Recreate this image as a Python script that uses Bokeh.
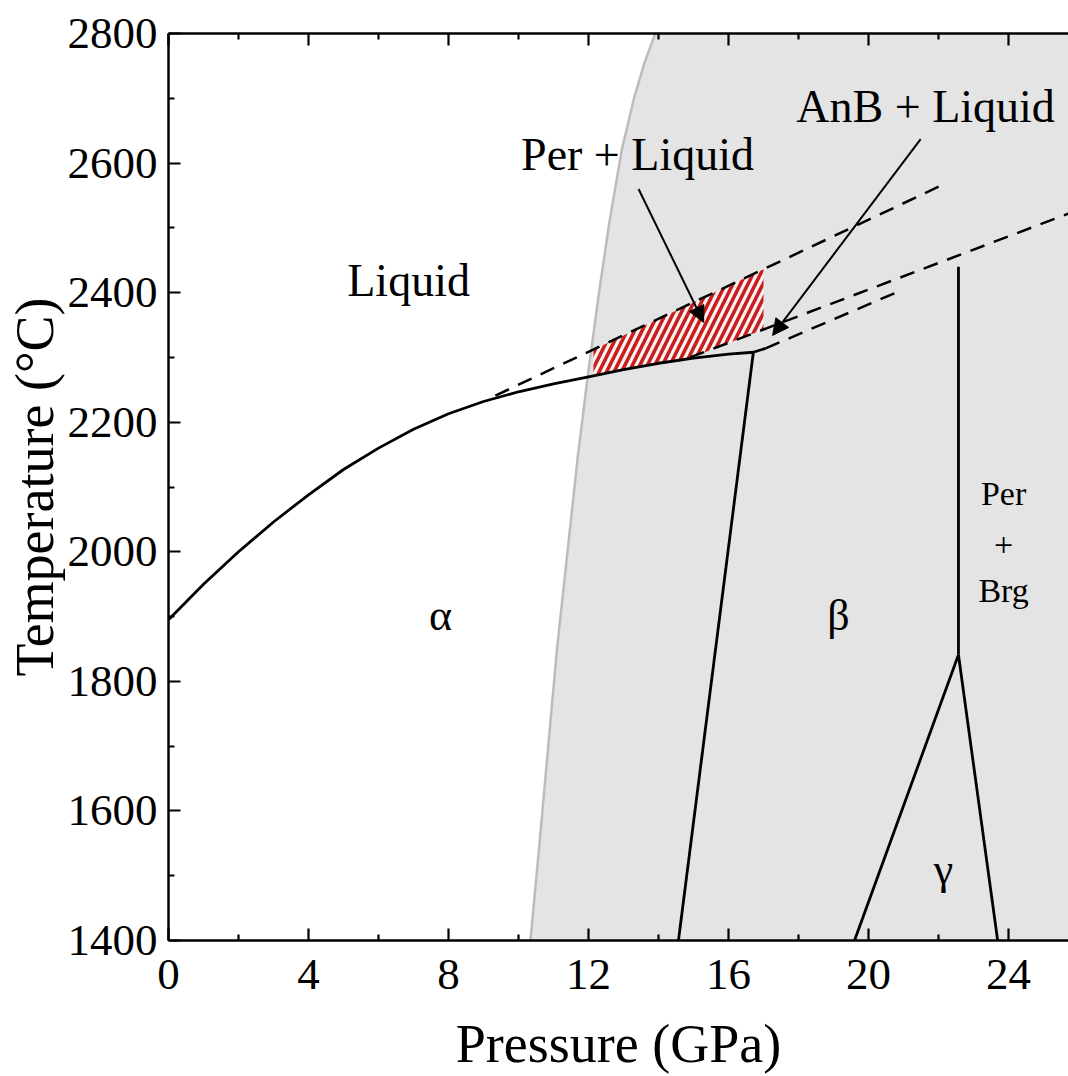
from bokeh.plotting import figure
from bokeh.models import Range1d, LinearAxis, FixedTicker, Arrow, NormalHead, Label
from bokeh.embed import file_html
from bokeh.resources import INLINE

FONT = "Liberation Serif"

# --- data (pressure GPa, temperature degC) ---
# left edge of grey shaded field
grey_P = [10.34, 10.6, 10.85, 11.1, 11.4, 11.7, 12.0, 12.3, 12.6, 12.95, 13.3, 13.6, 13.91]
grey_T = [1400, 1550, 1700, 1850, 2000, 2150, 2280, 2400, 2510, 2620, 2700, 2755, 2800]

# liquidus (solid)
liq_P = [0, 1, 2, 3, 4, 5, 6, 7, 8, 9, 10, 11, 12, 13, 14, 15, 16, 16.71, 17.06]
liq_T = [1895, 1950, 2000, 2046, 2088, 2127, 2160, 2189, 2213, 2232, 2247, 2259, 2270, 2281, 2291, 2299, 2305, 2308, 2314]

# alpha/beta boundary
ab_P = [16.71, 14.57]
ab_T = [2308, 1400]

# gamma field boundaries
gl_P = [19.6, 22.57]
gl_T = [1400, 1841]
gr_P = [22.57, 23.69]
gr_T = [1841, 1400]
# Per + Brg vertical boundary
pb_P = [22.57, 22.57]
pb_T = [1841, 2440]

# dashed extrapolated lines
d1_P = [9.34, 22.06]
d1_T = [2241, 2565]
d2_P = [14.9, 25.71]
d2_T = [2300, 2522]
d3_P = [17.06, 21.0]
d3_T = [2314, 2405]

# hatched Per + Liquid area
hatch_P = [12.14, 17.0, 17.0, 14.9, 14.0, 13.0, 12.14]
hatch_T = [2312, 2436, 2343, 2299, 2291, 2281, 2271]

x_ticks = [0, 4, 8, 12, 16, 20, 24]
x_minor = [2, 6, 10, 14, 18, 22]
y_ticks = [1400, 1600, 1800, 2000, 2200, 2400, 2600, 2800]
y_minor = [1500, 1700, 1900, 2100, 2300, 2500, 2700]

X_END = 25.714

p = figure(width=1068, height=1076, x_range=Range1d(0, X_END), y_range=Range1d(1400, 2800),
           output_backend="svg", toolbar_location=None,
           min_border_left=168, min_border_right=0, min_border_top=33, min_border_bottom=135)
p.outline_line_color = None
p.grid.visible = False
p.background_fill_color = "white"

bottom = p.below[0]
left = p.left[0]
top = LinearAxis()
p.add_layout(top, "above")

# grey field
gp = grey_P + [X_END, X_END]
gt = grey_T + [2800, 1400]
p.patch(gp, gt, fill_color="#e4e4e4", line_color=None)
p.line(grey_P, grey_T, line_color="#bcbcbc", line_width=2.5)

# hatched area
p.patch(hatch_P, hatch_T, fill_color="#fbf3f3", line_color=None,
        hatch_pattern="/", hatch_color="#c81e1e", hatch_weight=3.6, hatch_scale=15)

# lines
for xs, ys in [(liq_P, liq_T), (ab_P, ab_T), (gl_P, gl_T), (gr_P, gr_T), (pb_P, pb_T)]:
    p.line(xs, ys, line_color="black", line_width=2.8, line_join="round")
for xs, ys in [(d1_P, d1_T), (d2_P, d2_T), (d3_P, d3_T)]:
    p.line(xs, ys, line_color="black", line_width=2.5, line_dash="15 10")

# arrows
p.add_layout(Arrow(x_start=13.43, y_start=2560, x_end=15.29, y_end=2354, line_width=2,
                   end=NormalHead(size=16, fill_color="black", line_color="black")))
p.add_layout(Arrow(x_start=21.49, y_start=2637, x_end=17.26, y_end=2334, line_width=2,
                   end=NormalHead(size=16, fill_color="black", line_color="black")))

def lab(x, y, t, size):
    p.add_layout(Label(x=x, y=y, text=t, text_font=FONT, text_font_size=size,
                       text_align="center", text_baseline="middle", text_color="black"))

lab(6.86, 2419, "Liquid", "46px")
lab(13.4, 2614, "Per + Liquid", "46px")
lab(21.63, 2688, "AnB + Liquid", "46px")
lab(7.77, 1902, "α", "44px")
lab(19.14, 1902, "β", "44px")
lab(22.14, 1509, "γ", "44px")
lab(23.86, 2090, "Per", "34px")
lab(23.86, 2010, "+", "34px")
lab(23.86, 1941, "Brg", "34px")

bottom.ticker = FixedTicker(ticks=x_ticks, minor_ticks=x_minor)
top.ticker = FixedTicker(ticks=x_ticks, minor_ticks=x_minor)
left.ticker = FixedTicker(ticks=y_ticks, minor_ticks=y_minor)

for ax in [bottom, left, top]:
    ax.axis_line_width = 2.5
    ax.axis_line_color = "black"
    ax.major_tick_in = 12
    ax.major_tick_out = 0
    ax.minor_tick_in = 6
    ax.minor_tick_out = 0
    ax.major_tick_line_width = 2.2
    ax.minor_tick_line_width = 2.2
    ax.major_label_text_font = FONT
    ax.major_label_text_font_size = "45px"
    ax.major_label_text_color = "black"
    ax.axis_label_text_font = FONT
    ax.axis_label_text_font_size = "54px"
    ax.axis_label_text_font_style = "normal"
    ax.axis_label_text_color = "black"

top.major_label_text_font_size = "0px"
top.major_label_standoff = 0
bottom.axis_label = "Pressure (GPa)"
left.axis_label = "Temperature (°C)"
bottom.major_label_standoff = 19
left.major_label_standoff = 11
bottom.axis_label_standoff = 22
left.axis_label_standoff = 0

open("out.html", "w").write(file_html(p, INLINE))
